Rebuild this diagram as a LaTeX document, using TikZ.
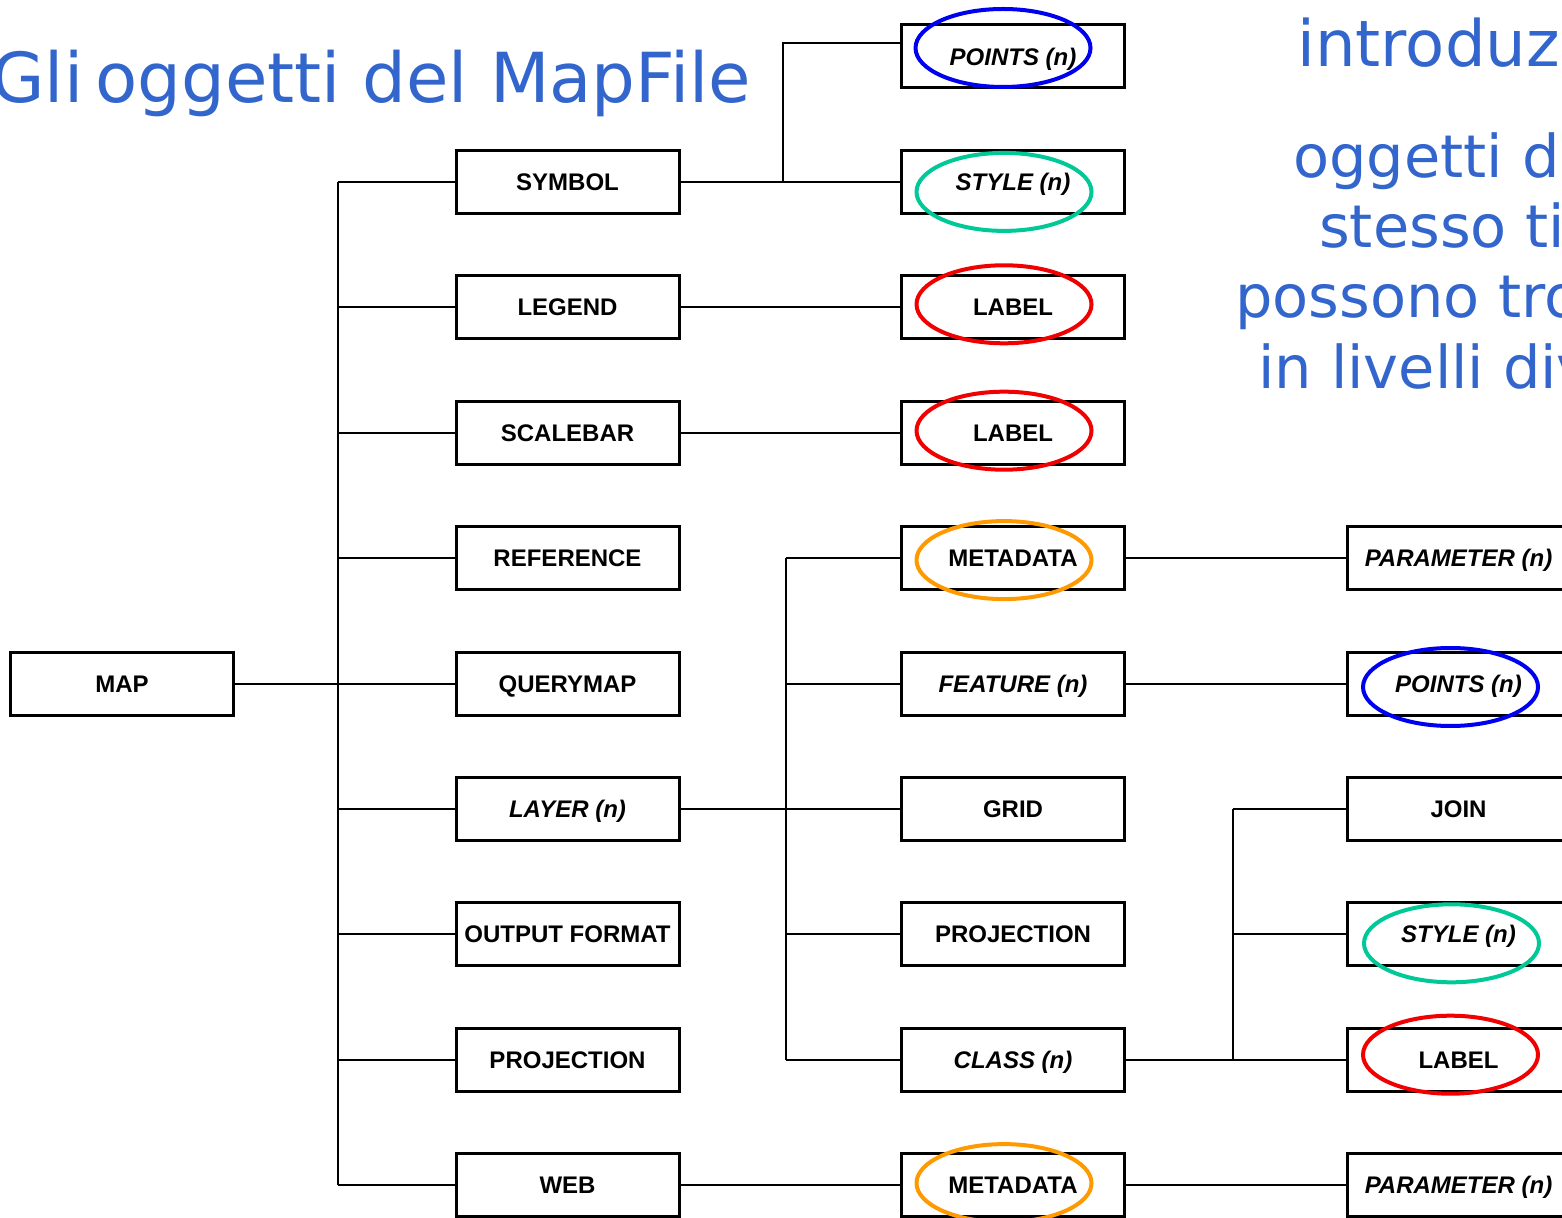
\documentclass[tikz,border=0pt]{standalone}
\usepackage{fontspec}
\setsansfont{Liberation Sans}
\newfontfamily\slidefont{DejaVu Sans}
\usetikzlibrary{positioning}

\definecolor{slideblue}{RGB}{51,102,204}
\definecolor{ptblue}{RGB}{0,0,240}
\definecolor{stgreen}{RGB}{0,200,150}
\definecolor{lbred}{RGB}{240,0,0}
\definecolor{mdorange}{RGB}{255,153,0}

\tikzset{
  obj/.style={draw,line width=1.5pt,minimum width=111.5pt,minimum height=31.5pt,
    inner sep=0pt,outer sep=0pt,text height=8.6pt,text depth=0pt,
    font=\sffamily\bfseries\fontsize{12}{14}\selectfont},
  objn/.style={obj,font=\sffamily\bfseries\itshape\fontsize{12}{14}\selectfont},
  tree/.style={line width=1pt,black},
  ring/.style={line width=2pt,draw=#1},
  title/.style={inner sep=0pt,text=slideblue,font=\slidefont\fontsize{34.5}{40}\selectfont},
  intro/.style={title,font=\slidefont\fontsize{32}{38}\selectfont},
  note/.style={title,font=\slidefont\fontsize{29.5}{35}\selectfont}
}

\begin{document}
\begin{tikzpicture}[x=0.5pt,y=-0.5pt]
\useasboundingbox (0,0) rectangle (1562,1218);
\clip (0,0) rectangle (1562,1218);

\node [title,anchor=base east](title) at (751.5,103) {Gli\kern-5pt\ oggetti del MapFile};
\node [intro,anchor=base west](intro) at (1297,67) {introduzione};
\foreach \t [count=\i] in {oggetti dello,stesso tipo,possono trovarsi,in livelli diversi}
  \node [note,anchor=base](note\i) at (1479,107+70.3*\i) {\t};

% first level
\node [obj](map) at (122,683.5) {MAP};
\node [obj](symbol) at (567.5,181.9) {SYMBOL};
\node [obj,below=31.2pt of symbol](legend) {LEGEND};
\node [obj,below=31.2pt of legend](scalebar) {SCALEBAR};
\node [obj,below=31.2pt of scalebar](reference) {REFERENCE};
\node [obj,below=31.2pt of reference](querymap) {QUERYMAP};
\node [objn,below=31.2pt of querymap](layer) {LAYER (n)};
\node [obj,below=31.2pt of layer](outfmt) {OUTPUT FORMAT};
\node [obj,below=31.2pt of outfmt](proj1) {PROJECTION};
\node [obj,below=31.2pt of proj1](web) {WEB};

% second level
\node [objn,right=111.25pt of symbol](style1) {STYLE (n)};
\node [objn,above=31.2pt of style1](points1) {POINTS (n)};
\node [obj,right=111.25pt of legend](label1) {LABEL};
\node [obj,right=111.25pt of scalebar](label2) {LABEL};
\node [obj,right=111.25pt of reference](meta1) {METADATA};
\node [objn,right=111.25pt of querymap](feature) {FEATURE (n)};
\node [obj,right=111.25pt of layer](grid) {GRID};
\node [obj,right=111.25pt of outfmt](proj2) {PROJECTION};
\node [objn,right=111.25pt of proj1](class) {CLASS (n)};
\node [obj,right=111.25pt of web](meta2) {METADATA};

% third level
\node [objn,right=111.25pt of meta1](param1) {PARAMETER (n)};
\node [objn,right=111.25pt of feature](points2) {POINTS (n)};
\node [obj,right=111.25pt of grid](join) {JOIN};
\node [objn,right=111.25pt of proj2](style2) {STYLE (n)};
\node [obj,right=111.25pt of class](label3) {LABEL};
\node [objn,right=111.25pt of meta2](param2) {PARAMETER (n)};

% trunk
\draw [tree] (map.east) -- ++(104,0) coordinate (trunk);
\draw [tree] (trunk |- symbol.west) -- (trunk |- web.west);
\foreach \n in {symbol,legend,scalebar,reference,querymap,layer,outfmt,proj1,web}
  \draw [tree] (trunk |- \n.west) -- (\n.west);

% symbol
\coordinate (symfork) at ([xshift=52pt]symbol.east);
\draw [tree] (symbol.east) -- (style1.west);
\draw [tree] (symfork) |- ([yshift=6.75pt]points1.west);

% layer
\coordinate (layfork) at ([xshift=53.5pt]layer.east);
\draw [tree] (layer.east) -- (grid.west);
\draw [tree] (layfork |- meta1.west) -- (layfork |- class.west);
\foreach \n in {meta1,feature,proj2,class}
  \draw [tree] (layfork |- \n.west) -- (\n.west);

% class
\coordinate (clsfork) at ([xshift=54pt]class.east);
\draw [tree] (class.east) -- (label3.west);
\draw [tree] (clsfork |- join.west) -- (clsfork);
\foreach \n in {join,style2}
  \draw [tree] (clsfork |- \n.west) -- (\n.west);

\draw [tree] (legend.east) -- (label1.west);
\draw [tree] (scalebar.east) -- (label2.west);
\draw [tree] (meta1.east) -- (param1.west);
\draw [tree] (feature.east) -- (points2.west);
\draw [tree] (web.east) -- (meta2.west);
\draw [tree] (meta2.east) -- (param2.west);

% rings
\draw [ring=ptblue] ([shift={(-10,-8.5)}]points1.center) ellipse [x radius=43.75pt,y radius=19.5pt];
\draw [ring=stgreen] ([shift={(-9,10)}]style1.center) ellipse [x radius=43.75pt,y radius=19.5pt];
\draw [ring=lbred] ([shift={(-9,-3)}]label1.center) ellipse [x radius=43.75pt,y radius=19.5pt];
\draw [ring=lbred] ([shift={(-9,-2)}]label2.center) ellipse [x radius=43.75pt,y radius=19.5pt];
\draw [ring=mdorange] ([shift={(-9,2)}]meta1.center) ellipse [x radius=43.75pt,y radius=19.5pt];
\draw [ring=ptblue] ([shift={(-8,3.5)}]points2.center) ellipse [x radius=43.75pt,y radius=19.5pt];
\draw [ring=stgreen] ([shift={(-7,9)}]style2.center) ellipse [x radius=43.75pt,y radius=19.5pt];
\draw [ring=lbred] ([shift={(-8,-5)}]label3.center) ellipse [x radius=43.75pt,y radius=19.5pt];
\draw [ring=mdorange] ([shift={(-9,-2)}]meta2.center) ellipse [x radius=43.75pt,y radius=19.5pt];

\end{tikzpicture}
\end{document}
